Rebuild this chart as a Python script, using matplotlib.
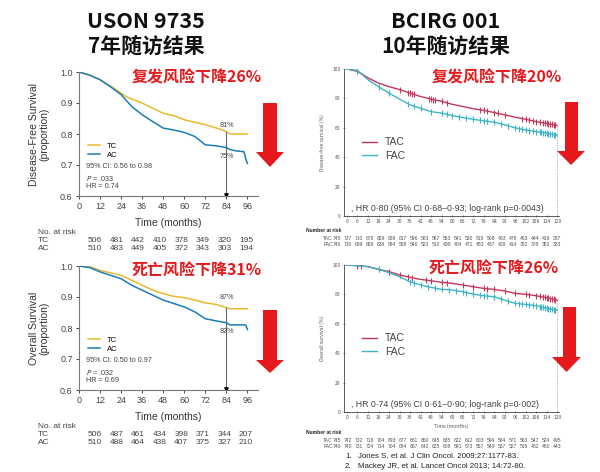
import numpy as np
import matplotlib
matplotlib.use("Agg")
import matplotlib.pyplot as plt
from matplotlib.patches import Polygon

plt.rcParams['font.family'] = ['Noto Sans CJK SC', 'DejaVu Sans']

W, H = 600, 472
LAT = ['Liberation Sans', 'DejaVu Sans']

# ---- USON 9735 (left) ----
uson_t = [0, 6, 12, 18, 24, 27, 30, 36, 42, 48, 54, 60, 66, 72, 78, 84, 86, 96]
dfs_tc = [1.0, 0.99, 0.975, 0.955, 0.932, 0.92, 0.913, 0.90, 0.883, 0.867, 0.859,
          0.846, 0.838, 0.83, 0.82, 0.808, 0.80, 0.80]
uson_t_ac = [0, 6, 12, 18, 24, 30, 36, 42, 48, 54, 60, 66, 72, 78, 84, 86, 90, 94, 95, 96]
dfs_ac = [1.0, 0.99, 0.975, 0.952, 0.927, 0.889, 0.862, 0.84, 0.819, 0.813, 0.805,
          0.792, 0.765, 0.762, 0.756, 0.75, 0.745, 0.743, 0.72, 0.705]
os_t = [0, 6, 12, 18, 24, 30, 36, 42, 48, 54, 60, 66, 72, 78, 84, 86, 96]
os_tc = [1.0, 0.998, 0.986, 0.978, 0.97, 0.954, 0.938, 0.922, 0.911, 0.902, 0.898,
         0.89, 0.881, 0.876, 0.866, 0.862, 0.862]
os_t_ac = [0, 6, 12, 18, 24, 30, 36, 42, 48, 54, 60, 66, 72, 78, 84, 86, 95, 96]
os_ac = [1.0, 0.995, 0.981, 0.97, 0.959, 0.938, 0.922, 0.906, 0.89, 0.879, 0.868,
         0.852, 0.83, 0.823, 0.817, 0.81, 0.81, 0.795]
uson_risk_months = [0, 12, 24, 36, 48, 60, 72, 84]
risk_dfs_tc = [506, 481, 442, 410, 378, 349, 320, 195]
risk_dfs_ac = [510, 483, 449, 405, 372, 343, 303, 194]
risk_os_tc = [506, 487, 461, 434, 398, 371, 344, 207]
risk_os_ac = [510, 488, 464, 438, 407, 375, 327, 210]

# ---- BCIRG 001 (right) ----
bc_t = list(range(0, 121, 6))
dfs_tac = [100, 98.4, 94, 90.4, 88, 86, 83.6, 81.3, 79.5, 78, 76, 74.5, 73, 71.8,
           70.4, 68.8, 67.2, 65.8, 64.2, 63, 61.5]
dfs_fac = [100, 99, 92.7, 88, 83.6, 79.5, 75.6, 73.3, 71, 70, 68.3, 67, 65.8, 64.7,
           63.8, 62, 60, 58.5, 57.4, 56.3, 55]
os_tac = [100, 99.5, 98.9, 97, 95.5, 93.2, 91.6, 90.2, 89.3, 88.2, 87.5, 86.4, 85.2,
          84.1, 83.4, 82.3, 80.7, 80, 79.1, 77.7, 76.1]
os_fac = [100, 99.5, 98.9, 97, 94.8, 92, 88.6, 86.4, 84.8, 83.4, 83, 81.8, 80.2, 79.1,
          78.4, 76.1, 73.9, 73.2, 72.3, 70.5, 69.3]
cens_dfs_tac = [6, 30, 35, 36, 37, 38, 47, 48, 49, 50, 54, 57, 76, 78, 80, 84, 86, 90,
                100, 102, 104, 106, 108, 110, 112, 113, 114, 115, 116, 117, 118, 119]
cens_dfs_fac = [6, 18, 24, 35, 38, 42, 48, 54, 57, 60, 64, 68, 72, 76, 78, 80, 84, 88,
                92, 96, 98, 100, 102, 104, 106, 108, 110, 111, 112, 113, 114, 115, 116,
                117, 118, 119]
cens_os_tac = [6, 8, 18, 24, 30, 35, 37, 45, 48, 54, 57, 66, 72, 78, 80, 84, 90, 96,
               102, 104, 108, 110, 112, 113, 114, 115, 116, 117, 118, 119]
cens_os_fac = [18, 36, 38, 42, 46, 50, 54, 58, 62, 66, 68, 72, 76, 78, 80, 84, 88, 92,
               96, 98, 100, 102, 104, 106, 108, 110, 111, 112, 113, 114, 115, 116, 117,
               118, 119]
risk_bc_dfs_tac = [745, 737, 710, 678, 659, 639, 617, 596, 583, 567, 553, 541, 530, 519,
                   508, 493, 478, 463, 444, 418, 387]
risk_bc_dfs_fac = [746, 730, 699, 659, 638, 584, 558, 540, 523, 510, 499, 484, 471, 453,
                   437, 429, 414, 392, 378, 353, 333]
risk_bc_os_tac = [745, 742, 732, 718, 704, 693, 677, 661, 650, 645, 635, 622, 612, 603,
                  594, 584, 571, 563, 547, 524, 495]
risk_bc_os_fac = [746, 740, 731, 724, 714, 704, 684, 657, 642, 625, 608, 591, 573, 557,
                  549, 537, 527, 519, 482, 460, 443]

C_TC, C_AC = '#E8B92F', '#1B7DB8'
C_TAC, C_FAC = '#C2375C', '#3FB4C6'
RED = '#E5191C'

fig = plt.figure(figsize=(6, 4.72), dpi=100)


def fx(x):
    return x / W


def fy(y):
    return 1 - y / H


def add_ax(left, top, right, bottom):
    return fig.add_axes([fx(left), fy(bottom), (right - left) / W, (bottom - top) / H])


def ftext(x, y, s, **kw):
    fig.text(fx(x), fy(y), s, **kw)


def arrow(xl, xr, top, head_l, head_r, head_top, tip):
    pts = [(xl, top), (xr, top), (xr, head_top), (head_r, head_top),
           ((head_l + head_r) / 2, tip), (head_l, head_top), (xl, head_top)]
    pts = [(fx(a), fy(b)) for a, b in pts]
    fig.add_artist(Polygon(pts, closed=True, transform=fig.transFigure,
                           facecolor=RED, edgecolor='none'))


def uson_panel(top, bottom, t1, s1, t2, s2, ylabel, pct1, pct2, ci, p, hr):
    ax = add_ax(79, top, 258, bottom)
    ax.plot(t1, s1, color=C_TC, lw=1.1, label='TC')
    ax.plot(t2, s2, color=C_AC, lw=1.1, label='AC')
    ax.set_xlim(0, 102)
    ax.set_ylim(0.6, 1.0)
    ax.set_xticks(range(0, 97, 12))
    ax.set_yticks([0.6, 0.7, 0.8, 0.9, 1.0])
    ax.set_yticklabels(['0.6', '0.7', '0.8', '0.9', '1.0'])
    for sp in ['top', 'right']:
        ax.spines[sp].set_visible(False)
    for sp in ['left', 'bottom']:
        ax.spines[sp].set_color('#777')
        ax.spines[sp].set_linewidth(0.8)
    ax.tick_params(labelsize=6.5, colors='#444', length=2.5, width=0.7, pad=2)
    for lab in ax.get_xticklabels() + ax.get_yticklabels():
        lab.set_family(LAT)
    ax.set_xlabel('Time (months)', fontsize=7.5, family=LAT, color='#333', labelpad=5)
    ax.set_ylabel(ylabel, fontsize=7.5, family=LAT, color='#333', labelpad=8,
                  linespacing=1.0)
    top_val = np.interp(84, t1, s1)
    ax.plot([84, 84], [0.6, top_val], color='#666', lw=0.8)
    ax.plot([84], [0.604], marker='v', color='k', ms=2.5)
    ax.text(84.5, pct1[1], pct1[0], fontsize=5.2, family=LAT, color='#444', ha='center')
    ax.text(84.5, pct2[1], pct2[0], fontsize=5.2, family=LAT, color='#444', ha='center')
    ax.legend(frameon=False, loc='upper left', bbox_to_anchor=(0.03, 0.46),
              handlelength=1.6, labelspacing=0.15, borderpad=0,
              prop={'family': LAT, 'size': 5.5})
    ax.text(4, 0.69, ci, fontsize=5.2, family=LAT, color='#444')
    ax.text(4, 0.648, p, fontsize=5.2, family=LAT, color='#444')
    ax.text(4, 0.627, hr, fontsize=5.2, family=LAT, color='#444')
    return ax


# top-left
uson_panel(72, 196, uson_t, dfs_tc, uson_t_ac, dfs_ac,
           'Disease-Free Survival\n(proportion)', ('81%', 0.823), ('75%', 0.723),
           '95% CI: 0.56 to 0.98', '$P$ = .033', 'HR = 0.74')
# bottom-left
uson_panel(266, 390, os_t, os_tc, os_t_ac, os_ac,
           'Overall Survival\n(proportion)', ('87%', 0.895), ('82%', 0.785),
           '95% CI: 0.50 to 0.97', '$P$ = .032', 'HR = 0.69')

uson_x = np.linspace(95, 246, len(uson_risk_months))
for ys, a, b in [((232, 240, 248), risk_dfs_tc, risk_dfs_ac),
                 ((426, 434, 443), risk_os_tc, risk_os_ac)]:
    ftext(38, ys[0], 'No. at risk', fontsize=6, family=LAT, color='#444', va='center')
    ftext(38, ys[1], 'TC', fontsize=6, family=LAT, color='#444', va='center')
    ftext(38, ys[2], 'AC', fontsize=6, family=LAT, color='#444', va='center')
    for x, v1, v2 in zip(uson_x, a, b):
        ftext(x, ys[1], str(v1), fontsize=6, family=LAT, color='#444', va='center', ha='center')
        ftext(x, ys[2], str(v2), fontsize=6, family=LAT, color='#444', va='center', ha='center')


def bcirg_panel(top, bottom, s1, c1, s2, c2, ylabel, hr, xlabel):
    ax = add_ax(344, top, 559, bottom)
    for s, c, col in [(s1, c1, C_TAC), (s2, c2, C_FAC)]:
        ax.plot(bc_t, s, color=col, lw=1.0)
        # censor ticks sit on the drawn curve
        ax.plot(c, np.interp(c, bc_t, s), ls='none', marker='|', color=col,
                ms=4.5, mew=0.8)
    ax.plot([], [], color=C_TAC, lw=1.0, label='TAC')
    ax.plot([], [], color=C_FAC, lw=1.0, label='FAC')
    ax.set_xlim(-1.7, 121)
    ax.set_ylim(0, 100)
    ax.set_xticks(bc_t)
    ax.set_yticks(range(0, 101, 20))
    for sp in ['top', 'right']:
        ax.spines[sp].set_visible(False)
    for sp in ['left', 'bottom']:
        ax.spines[sp].set_linewidth(0.6)
        ax.spines[sp].set_color('#444')
    ax.tick_params(labelsize=3.6, colors='#555', length=2, width=0.5, pad=1.5,
                   direction='inout')
    ax.set_ylabel(ylabel, fontsize=3.6, color='#555', labelpad=5)
    if xlabel:
        ax.set_xlabel(xlabel, fontsize=3.6, color='#555', labelpad=2)
    ax.plot([120, 120], [0, s1[-1]], color='#888', lw=0.6, ls=':')
    ax.legend(frameon=False, loc='upper left', bbox_to_anchor=(0.06, 0.57),
              handlelength=1.4, labelspacing=0.3, borderpad=0,
              prop={'family': LAT, 'size': 7.5}, labelcolor='#444')
    ax.text(2.5, 3.5, hr, fontsize=6.3, family=LAT, color='#444')
    return ax


bcirg_panel(69, 216, dfs_tac, cens_dfs_tac, dfs_fac, cens_dfs_fac,
            'Disease-free survival (%)',
            ', HR 0\u00b780 (95% CI 0\u00b768\u20130\u00b793; log-rank p=0\u00b70043)', None)
bcirg_panel(265, 412, os_tac, cens_os_tac, os_fac, cens_os_fac,
            'Overall survival (%)',
            ', HR 0\u00b774 (95% CI 0\u00b761\u20130\u00b790; log-rank p=0\u00b7002)',
            'Time (months)')

bc_x = np.linspace(337, 557, len(bc_t))
for ys, a, b in [((230, 238, 245), risk_bc_dfs_tac, risk_bc_dfs_fac),
                 ((433, 440, 447), risk_bc_os_tac, risk_bc_os_fac)]:
    ftext(306, ys[0], 'Number at risk', fontsize=3.6, family=LAT, color='#222',
          va='center', weight='bold')
    ftext(333, ys[1], 'TAC', fontsize=3.6, family=LAT, color='#555', va='center', ha='right')
    ftext(333, ys[2], 'FAC', fontsize=3.6, family=LAT, color='#555', va='center', ha='right')
    for x, v1, v2 in zip(bc_x, a, b):
        ftext(x, ys[1], str(v1), fontsize=3.6, family=LAT, color='#555', va='center', ha='center')
        ftext(x, ys[2], str(v2), fontsize=3.6, family=LAT, color='#555', va='center', ha='center')

# titles
for x, l1, l2 in [(146, 'USON 9735', '7年随访结果'), (446, 'BCIRG 001', '10年随访结果')]:
    ftext(x, 21, l1, fontsize=15.5, weight='bold', ha='center', va='center', color='#111')
    ftext(x, 46, l2, fontsize=15, weight='bold', ha='center', va='center', color='#111')

# red notes
for x, y, s in [(197, 77, '复发风险下降26%'), (497, 77, '复发风险下降20%'),
                (197, 271, '死亡风险下降31%'), (494, 269, '死亡风险下降26%')]:
    ftext(x, y, s, fontsize=11.5, weight='bold', ha='center', va='center', color=RED)

arrow(263, 277, 103, 256, 284, 152, 167)
arrow(263, 277, 310, 256, 284, 360, 373)
arrow(565, 578, 102, 557, 585, 151, 165)
arrow(563, 576, 307, 552, 581, 357, 372)

# references
ftext(345, 456, '1.', fontsize=5.7, family=LAT, color='#222', va='center')
ftext(358, 456, 'Jones S, et al. J Clin Oncol. 2009;27:1177-83.', fontsize=5.7,
      family=LAT, color='#222', va='center')
ftext(345, 466, '2.', fontsize=5.7, family=LAT, color='#222', va='center')
ftext(358, 466, 'Mackey JR, et al. Lancet Oncol 2013; 14:72-80.', fontsize=5.7,
      family=LAT, color='#222', va='center')

fig.savefig('out.png', dpi=100)
